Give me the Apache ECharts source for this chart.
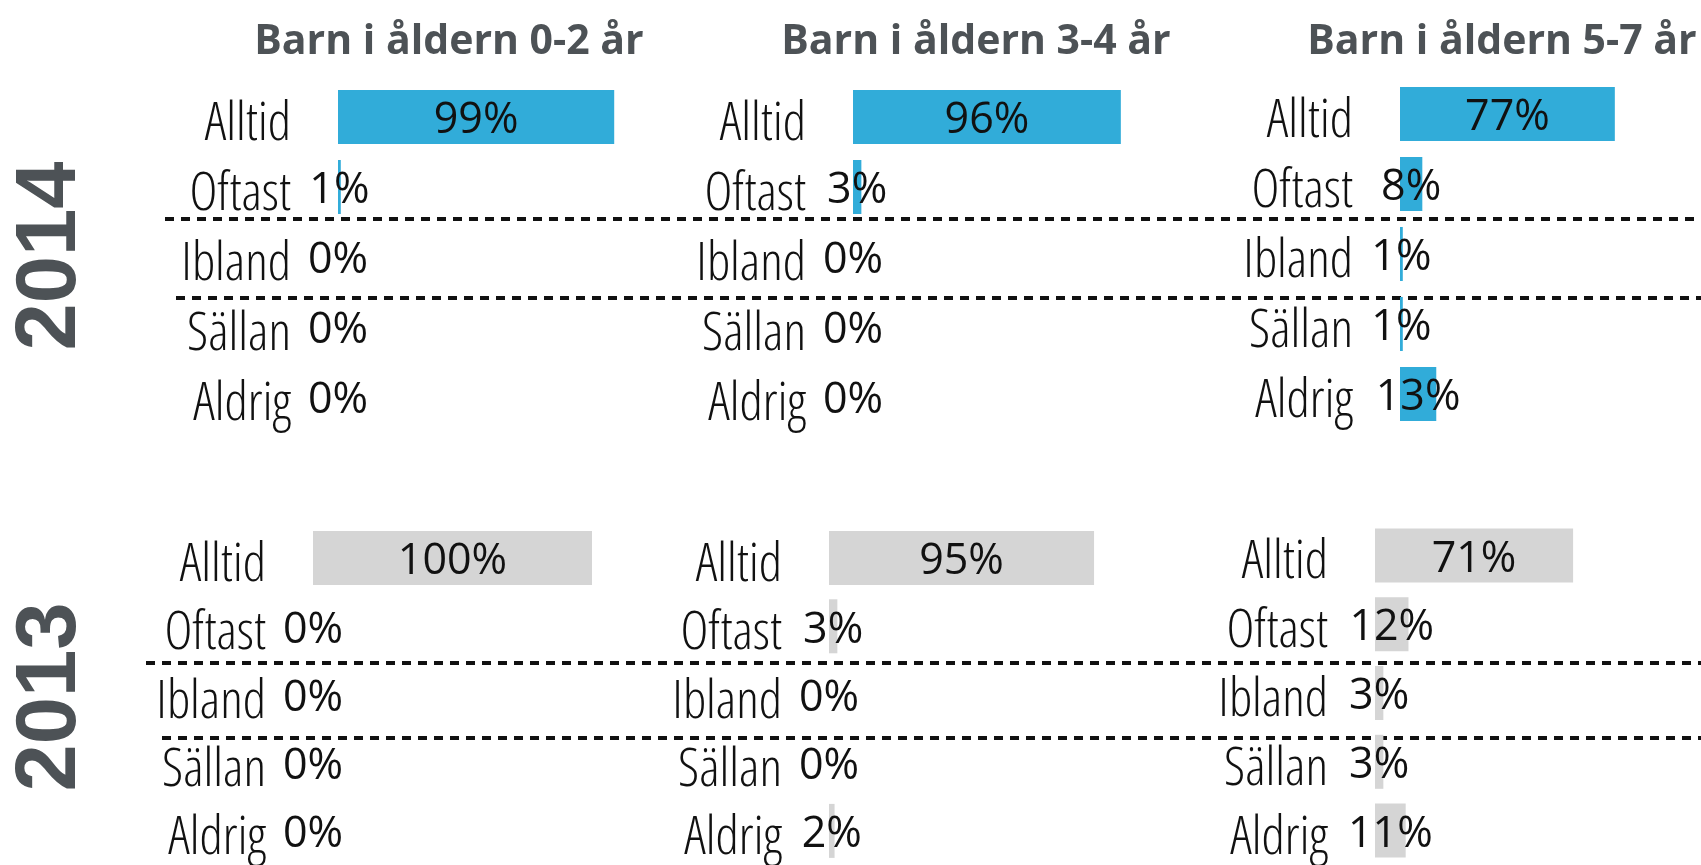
<!DOCTYPE html>
<html>
<head>
<meta charset="utf-8">
<title>Barn i åldern</title>
<script src="https://cdn.jsdelivr.net/npm/echarts@6.0.0/dist/echarts.min.js"></script>
<style>
    html, body { margin: 0; padding: 0; background: #fff; }
    .chart { width: 1701px; height: 865px; }
</style>
</head>
<body>
<div class="chart"></div>
<script>
// kategorier och värden (procent)
var categories = ['Alltid', 'Oftast', 'Ibland', 'Sällan', 'Aldrig'];
var titles = ['Barn i åldern 0-2 år', 'Barn i åldern 3-4 år', 'Barn i åldern 5-7 år'];
var years = ['2014', '2013'];

var v2014_02 = [99, 1, 0, 0, 0];
var v2014_34 = [96, 3, 0, 0, 0];
var v2014_57 = [77, 8, 1, 1, 13];

var v2013_02 = [100, 0, 0, 0, 0];
var v2013_34 = [95, 3, 0, 0, 2];
var v2013_57 = [71, 12, 3, 3, 11];

var chart = echarts.init(document.querySelector('.chart'));

// en ruta per åldersgrupp och år
var panels = [
    { data: v2014_02, left: 338, top: 82, color: '#31acd9' },
    { data: v2014_34, left: 853, top: 82, color: '#31acd9' },
    { data: v2014_57, left: 1400, top: 79, color: '#31acd9' },
    { data: v2013_02, left: 313, top: 524, color: '#d5d5d5' },
    { data: v2013_34, left: 829, top: 524, color: '#d5d5d5' },
    { data: v2013_57, left: 1375, top: 521, color: '#d5d5d5' }
];

var grids = [], xAxes = [], yAxes = [], series = [];
panels.forEach(function (p, i) {
    grids.push({ left: p.left, top: p.top, width: 279, height: 350 });
    xAxes.push({
        type: 'value', gridIndex: i, min: 0, max: 100, show: false
    });
    yAxes.push({
        type: 'category', gridIndex: i, inverse: true, data: categories,
        axisLine: { show: false },
        axisTick: { show: false },
        splitLine: { show: false },
        axisLabel: {
            interval: 0,
            margin: 47,
            fontSize: 53,
            // smal och tunn stil (font-stretch via vikt-strängen)
            fontWeight: 'semi-condensed 300',
            fontFamily: "'Open Sans', sans-serif",
            color: '#111',
            // texten sitter lite under radens mitt
            verticalAlign: 'top',
            lineHeight: 16
        }
    });
    series.push({
        type: 'bar',
        xAxisIndex: i,
        yAxisIndex: i,
        data: p.data,
        barWidth: 54,
        itemStyle: { color: p.color },
        label: {
            show: true,
            position: 'inside',
            offset: [0, 4],
            formatter: '{c}%',
            fontSize: 43,
            fontWeight: 500,
            fontFamily: "'Open Sans', sans-serif",
            color: '#111'
        },
        silent: true
    });
});

// rubriker, årtal och streckade linjer
var titleX = [449, 976, 1502];
var graphics = [];
titles.forEach(function (t, i) {
    graphics.push({
        type: 'text', x: titleX[i], y: 42,
        style: {
            text: t, fill: '#4d5256',
            font: "bold 41px 'Open Sans', sans-serif",
            textAlign: 'center', textVerticalAlign: 'middle'
        }
    });
});
var yearY = [256, 697];
years.forEach(function (t, i) {
    graphics.push({
        type: 'text', x: 52, y: yearY[i], rotation: Math.PI / 2,
        style: {
            text: t, fill: '#4d5256',
            font: "bold 85px 'Liberation Sans', sans-serif",
            textAlign: 'center', textVerticalAlign: 'middle'
        }
    });
});
var dashes = [[165, 219], [176, 298], [146, 663], [162, 738]];
dashes.forEach(function (d) {
    graphics.push({
        type: 'line',
        shape: { x1: d[0], y1: d[1], x2: 1701, y2: d[1] },
        style: { stroke: '#111', lineWidth: 4, lineDash: [9, 7] }
    });
});

chart.setOption({
    animation: false,
    grid: grids,
    xAxis: xAxes,
    yAxis: yAxes,
    series: series,
    graphic: graphics
});
</script>
</body>
</html>
